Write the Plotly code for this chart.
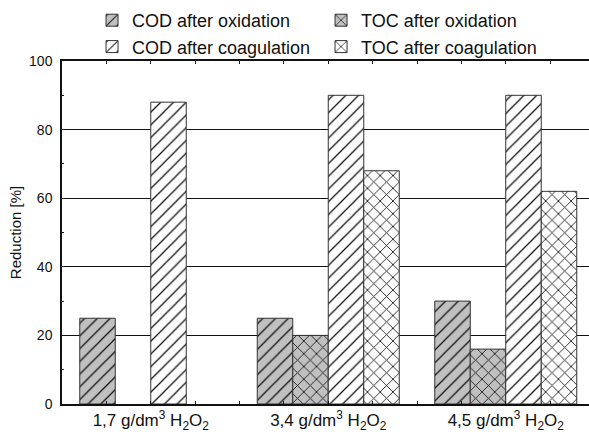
import plotly.graph_objects as go

# H2O2 doses (category labels) and reduction values in %
doses = [
    "1,7 g/dm<sup>3</sup> H<sub>2</sub>O<sub>2</sub>",
    "3,4 g/dm<sup>3</sup> H<sub>2</sub>O<sub>2</sub>",
    "4,5 g/dm<sup>3</sup> H<sub>2</sub>O<sub>2</sub>",
]
cod_oxidation = [25, 25, 30]
toc_oxidation = [None, 20, 16]
cod_coagulation = [88, 90, 90]
toc_coagulation = [None, 68, 62]

positions = list(range(len(doses)))

series = [
    ("COD after oxidation", cod_oxidation, "#c0c0c0", "/", 9, 0.14),
    ("TOC after oxidation", toc_oxidation, "#c0c0c0", "x", 9, 0.18),
    ("COD after coagulation", cod_coagulation, "white", "/", 9, 0.14),
    ("TOC after coagulation", toc_coagulation, "white", "x", 9, 0.18),
]

fig = go.Figure()
for name, vals, bg, shape, size, solidity in series:
    fig.add_trace(go.Bar(
        x=positions, y=vals, name=name,
        marker=dict(
            color=bg,
            line=dict(color="#333333", width=1),
            pattern=dict(shape=shape, bgcolor=bg, fgcolor="#111111",
                         size=size, solidity=solidity, fillmode="replace"),
        ),
    ))

font = "Liberation Sans, Arial, sans-serif"
fig.update_layout(
    width=589, height=437,
    margin=dict(l=62, r=0, t=61, b=33),
    paper_bgcolor="white", plot_bgcolor="white",
    barmode="group", bargap=0.2, bargroupgap=0,
    font=dict(family=font, size=14, color="#111111"),
    showlegend=True,
    legend=dict(
        orientation="h", x=0.057, xanchor="left", y=1.172, yanchor="top",
        entrywidth=184, entrywidthmode="pixels",
        font=dict(size=18), bgcolor="rgba(0,0,0,0)", tracegroupgap=0,
    ),
    xaxis=dict(
        range=[-0.5, 2.469], tickvals=positions, ticktext=doses,
        showgrid=False, zeroline=False,
        showline=True, linecolor="#111111", linewidth=1.5, mirror="ticks",
        ticks="inside", ticklen=3, tickcolor="#111111",
        minor=dict(dtick=0.25, tick0=0, ticks="inside", ticklen=3, tickcolor="#111111"),
        tickfont=dict(size=17),
    ),
    yaxis=dict(
        range=[0, 100], dtick=20, tick0=0,
        showgrid=True, gridcolor="#111111", gridwidth=1,
        zeroline=False,
        showline=True, linecolor="#111111", linewidth=1.5,
        ticks="inside", ticklen=4, tickcolor="#111111",
        minor=dict(dtick=10, ticks="inside", ticklen=2, tickcolor="#111111", showgrid=False),
        title=dict(text="Reduction [%]", font=dict(size=15), standoff=4),
        tickfont=dict(size=14), ticklabelstandoff=5,
    ),
)

fig.write_html("out.html")
